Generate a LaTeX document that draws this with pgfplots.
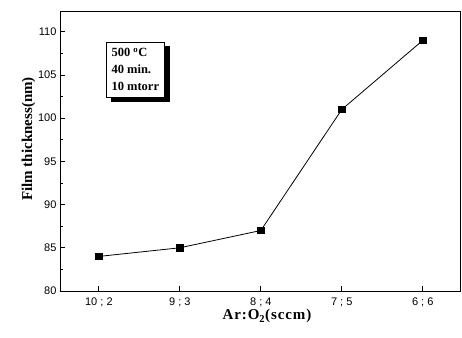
\documentclass[border=0pt]{standalone}
\usepackage{fontspec}
\setmainfont{Liberation Serif}
\newfontfamily\arialf{Liberation Sans}
\newfontfamily\xlabfont[LetterSpace=6]{Liberation Serif}
\usepackage{pgfplots}
\pgfplotsset{compat=1.18}
\begin{document}
\begin{tikzpicture}[x=1pt,y=1pt]
\path[use as bounding box] (-60,-46) rectangle (402,291);
\begin{axis}[
  at={(0,0)}, anchor=south west,
  scale only axis, width=400pt, height=280pt,
  xmin=-0.48, xmax=4.46, ymin=80, ymax=112.4,
  xtick={0,1,2,3,4},
  xticklabels={10 ; 2, 9 ; 3, 8 ; 4, 7 ; 5, 6 ; 6},
  ytick={80,85,...,110},
  minor y tick num=1,
  tick align=inside,
  xtick pos=bottom, ytick pos=left,
  major tick length=5pt, minor tick length=3pt,
  tick style={black, line width=0.8pt},
  axis line style={line width=0.9pt},
  /pgf/number format/assume math mode=true,
  ticklabel style={font=\arialf\fontsize{11}{13}\selectfont},
  xticklabel style={yshift=-3pt},
  xlabel={\xlabfont\bfseries Ar:O\textsubscript{2}(sccm)},
  ylabel={\textbf{Film thickness(nm)}},
  label style={font=\fontsize{15}{17}\selectfont},
  xlabel style={yshift=4pt, xshift=7pt},
  ylabel style={yshift=-4pt, xshift=12pt},
]
\addplot[black, line width=0.8pt, mark=square*, mark size=3.3pt] coordinates {
  (0,84) (1,85) (2,87) (3,101) (4,109)
};
\node[draw=black, fill=black, minimum width=58pt, minimum height=55pt, anchor=north west] at (rel axis cs:0.115,0.89) [xshift=4.5pt,yshift=-4.5pt] {};
\node[draw=black, fill=white, line width=0.6pt, align=left, inner sep=3pt, minimum width=58pt, minimum height=55pt, anchor=north west, font=\bfseries\fontsize{12.5}{17}\selectfont] at (rel axis cs:0.115,0.89) {500 \textsuperscript{o}C\\40 min.\\10 mtorr};
\end{axis}
\end{tikzpicture}
\end{document}
